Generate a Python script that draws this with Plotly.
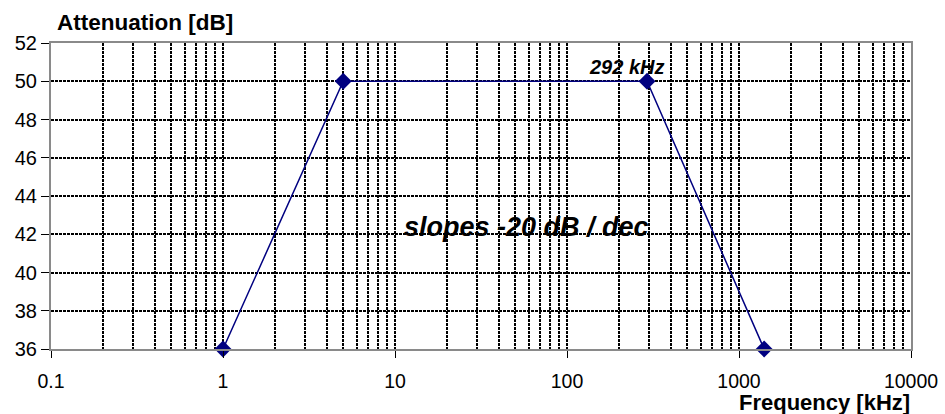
import plotly.graph_objects as go

freq_khz = [1, 5, 292, 1400]
atten_db = [36, 50, 50, 36]
x_tick_vals = [0.1, 1, 10, 100, 1000, 10000]
x_tick_text = ["0.1", "1", "10", "100", "1000", "10000"]
y_tick_vals = [36, 38, 40, 42, 44, 46, 48, 50, 52]
minor_x = [m * 10 ** k for k in range(-1, 4) for m in range(2, 10)]

FONT = "Liberation Sans, Arial, sans-serif"
L, R, T, B = 51, 34, 43, 65
W, H = 945, 414
pw = W - L - R
ph = H - T - B

fig = go.Figure()
fig.add_trace(go.Scatter(
    x=freq_khz, y=atten_db, mode="lines+markers",
    line=dict(color="#000080", width=1.5),
    marker=dict(symbol="diamond", size=13, color="#000080"),
    showlegend=False, cliponaxis=False,
))

DASH = "3px,1px"
GW = 2
fig.update_xaxes(
    type="log", range=[-1, 4], tickvals=x_tick_vals, ticktext=x_tick_text,
    showgrid=True, gridcolor="black", griddash=DASH, gridwidth=GW,
    minor=dict(tickvals=minor_x, showgrid=True, gridcolor="black", griddash=DASH, gridwidth=GW, ticks=""),
    showline=True, linecolor="#8a8a8a", linewidth=2, mirror=True,
    ticks="outside", ticklen=7, tickcolor="black", tickwidth=1,
    tickfont=dict(family=FONT, size=19.5, color="black"),
    ticklabelstandoff=7, zeroline=False, automargin=False,
)
fig.update_yaxes(
    range=[36, 52], tickvals=y_tick_vals,
    showgrid=True, gridcolor="black", griddash=DASH, gridwidth=GW,
    showline=True, linecolor="#8a8a8a", linewidth=2, mirror=True,
    ticks="outside", ticklen=8, tickcolor="black", tickwidth=1,
    tickfont=dict(family=FONT, size=20, color="black"),
    zeroline=False, automargin=False,
)

fig.add_annotation(text="<b><i>292 kHz</i></b>", x=2.347, y=50.76, xref="x", yref="y",
                   showarrow=False, font=dict(family=FONT, size=20, color="black"))
fig.add_annotation(text="<b><i>slopes -20 dB / dec</i></b>", x=1.762, y=42.4, xref="x", yref="y",
                   showarrow=False, font=dict(family=FONT, size=27, color="black"))
fig.add_annotation(text="<b>Attenuation [dB]</b>", x=(55 - L) / pw, y=(H - B - 22) / ph,
                   xref="paper", yref="paper", xanchor="left", yanchor="middle", showarrow=False,
                   font=dict(family=FONT, size=22.5, color="black"))
fig.add_annotation(text="<b>Frequency [kHz]</b>", x=(912 - L) / pw, y=-(402 - (H - B)) / ph,
                   xref="paper", yref="paper", xanchor="right", yanchor="middle", showarrow=False,
                   font=dict(family=FONT, size=22, color="black"))

fig.update_layout(
    width=W, height=H,
    margin=dict(l=L, r=R, t=T, b=B),
    plot_bgcolor="white", paper_bgcolor="white",
)

fig.write_html("out.html")
